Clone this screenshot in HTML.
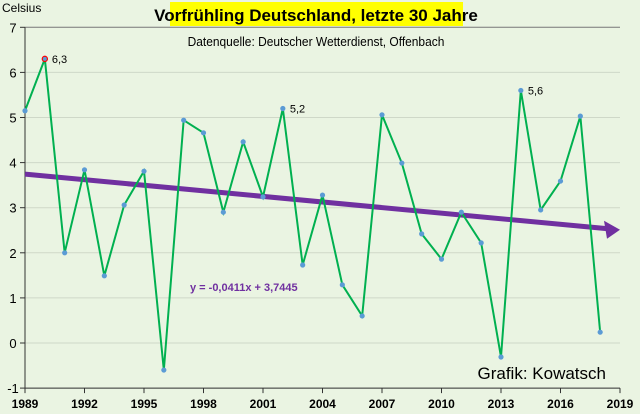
<!DOCTYPE html>
<html><head><meta charset="utf-8"><style>
body{margin:0;background:#eaf4e2;}
svg{display:block;font-family:"Liberation Sans",sans-serif;}
</style></head><body>
<svg id="c" width="640" height="414">
<rect width="640" height="414" fill="#eaf4e2"/>
<rect x="170" y="2" width="293" height="24" fill="#ffff00"/>
<text x="316" y="21" text-anchor="middle" font-size="17" font-weight="bold">Vorfrühling Deutschland, letzte 30 Jahre</text>
<text x="316" y="46" text-anchor="middle" font-size="13" transform="scale(0.92,1)" style="transform-origin:316px 0">Datenquelle: Deutscher Wetterdienst, Offenbach</text>
<text x="2" y="12" font-size="12">Celsius</text>
<text x="606" y="379" text-anchor="end" font-size="17">Grafik: Kowatsch</text>
<text x="190" y="291" font-size="11" font-weight="bold" fill="#7030a0">y = -0,0411x + 3,7445</text>
<g id="grid"></g><g id="axes"></g><g id="trend"></g><g id="series"></g>
</svg>
<script>
const years=[1989,1990,1991,1992,1993,1994,1995,1996,1997,1998,1999,2000,2001,2002,2003,2004,2005,2006,2007,2008,2009,2010,2011,2012,2013,2014,2015,2016,2017,2018];
const temps=[5.15,6.3,2.0,3.84,1.49,3.06,3.81,-0.6,4.94,4.66,2.9,4.46,3.24,5.2,1.73,3.28,1.29,0.6,5.06,3.99,2.42,1.86,2.9,2.22,-0.31,5.6,2.95,3.59,5.03,0.24];
const yTicks=[-1,0,1,2,3,4,5,6,7];
const xTicks=[1989,1992,1995,1998,2001,2004,2007,2010,2013,2016,2019];
const labeled={1990:"6,3",2002:"5,2",2014:"5,6"};
const trendSlope=-0.0411, trendIntercept=3.7445;
const NS="http://www.w3.org/2000/svg";
const X=y=>25+(y-1989)*(595/30);
const Y=v=>343-v*45.1;
function mk(t,a,p){const e=document.createElementNS(NS,t);for(const k in a)e.setAttribute(k,a[k]);p.appendChild(e);return e;}
const grid=document.getElementById('grid'),axes=document.getElementById('axes'),tr=document.getElementById('trend'),ser=document.getElementById('series');
yTicks.forEach(v=>{
 const l=mk('line',{x1:25,x2:620,y1:Y(v),y2:Y(v),stroke:v===7?'#777':'#cfd8c8','stroke-width':1},grid);
 
 
 const tk=mk('line',{x1:20,x2:25,y1:Y(v),y2:Y(v),stroke:'#333'},axes);
 
 
 const t=mk('text',{x:13,y:Y(v)+5,'text-anchor':'middle','font-size':13},axes);t.textContent=v;
 
 
});
const ya=mk('line',{x1:25,x2:25,y1:Y(7),y2:Y(-1),stroke:'#333'},axes);


const xa=mk('line',{x1:25,x2:620,y1:Y(-1),y2:Y(-1),stroke:'#333'},axes);


xTicks.forEach(y=>{
 const tk=mk('line',{x1:X(y),x2:X(y),y1:Y(-1),y2:Y(-1)+5,stroke:'#333'},axes);
 
 
 const t=mk('text',{x:X(y),y:408,'text-anchor':'middle','font-size':12,'font-weight':'bold'},axes);t.textContent=y;
 
 
});
const t0=trendIntercept, t1=trendIntercept+trendSlope*30;
const tl=mk('line',{x1:X(1989),y1:Y(t0),x2:X(2019)-12,y2:Y(t1)-1,stroke:'#7030a0','stroke-width':5},tr);


const ah=mk('polygon',{points:`${X(2019)},${Y(t1)} ${X(2019)-16},${Y(t1)-9} ${X(2019)-13},${Y(t1)+9}`,fill:'#7030a0'},tr);


const pl=mk('polyline',{points:years.map((y,i)=>X(y)+','+Y(temps[i])).join(' '),fill:'none',stroke:'#00b050','stroke-width':2},ser);


years.forEach((y,i)=>{
 const c=mk('circle',{cx:X(y),cy:Y(temps[i]),r:2.6,fill:'#5b9bd5',stroke:y===1990?'#ff0000':'none','stroke-width':1.2},ser);
 
 
 if(labeled[y]){const t=mk('text',{x:X(y)+7,y:Y(temps[i])+4,'font-size':11},ser);t.textContent=labeled[y];
  
  }
});
</script>
</body></html>
